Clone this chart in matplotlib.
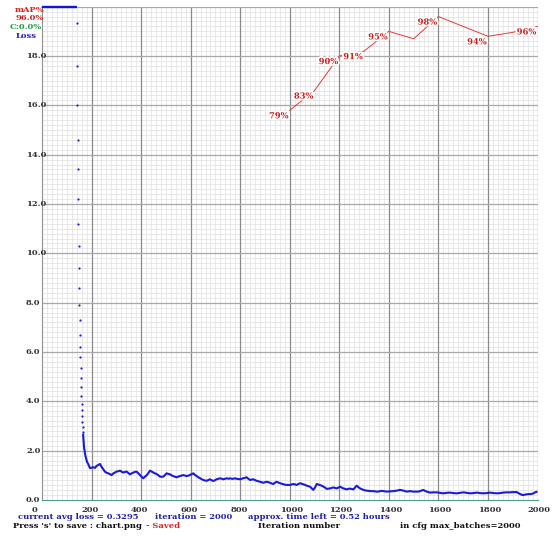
import matplotlib
matplotlib.use("Agg")
import matplotlib.pyplot as plt
import matplotlib.patheffects as pe
import numpy as np

W, H = 557, 536

# avg loss while clipped at the top of the chart (loss > 20)
clip_iters = [0, 140]
clip_vals = [20.0, 20.0]

# avg loss per iteration
loss_iters = [141, 142, 143, 144, 145, 146, 147, 148, 149, 150,
              151, 152, 153, 154, 155, 156, 157, 158, 159, 160,
              161, 162, 163, 164, 165, 166, 167, 168, 169, 170,
              172, 174, 177, 180, 184, 187, 191, 194, 200, 207,
              214, 220, 227, 234, 240, 247, 254, 261, 268, 275,
              281, 288, 295, 301, 308, 315, 321, 328, 335, 342,
              348, 355, 362, 369, 375, 382, 389, 396, 402, 409,
              416, 423, 430, 436, 443, 450, 457, 463, 470, 476,
              483, 490, 497, 503, 510, 517, 523, 530, 537, 544,
              550, 557, 564, 570, 577, 584, 590, 597, 604, 611,
              617, 624, 631, 638, 645, 651, 658, 665, 671, 678,
              685, 692, 698, 705, 712, 719, 726, 732, 739, 746,
              753, 759, 766, 772, 779, 786, 792, 799, 806, 813,
              820, 826, 833, 840, 847, 853, 860, 866, 873, 880,
              886, 893, 900, 907, 914, 920, 927, 934, 940, 947,
              954, 961, 967, 974, 981, 988, 995, 1001, 1008, 1015,
              1021, 1028, 1035, 1042, 1048, 1055, 1062, 1069, 1075, 1082,
              1089, 1095, 1102, 1109, 1115, 1122, 1129, 1136, 1143, 1149,
              1156, 1163, 1170, 1176, 1183, 1190, 1196, 1203, 1210, 1216,
              1223, 1230, 1236, 1243, 1250, 1257, 1263, 1270, 1277, 1284,
              1290, 1297, 1304, 1311, 1318, 1324, 1331, 1338, 1345, 1351,
              1358, 1364, 1371, 1378, 1385, 1392, 1405, 1418, 1432, 1445,
              1459, 1472, 1486, 1499, 1509, 1519, 1529, 1539, 1546, 1553,
              1566, 1580, 1593, 1606, 1620, 1633, 1647, 1660, 1674, 1687,
              1701, 1714, 1728, 1741, 1755, 1768, 1782, 1795, 1809, 1822,
              1836, 1849, 1862, 1876, 1889, 1903, 1916, 1923, 1930, 1937,
              1943, 1950, 1957, 1963, 1970, 1977, 1984, 1990, 1996]
loss_vals = [19.35, 17.6, 16.0, 14.6, 13.4, 12.2, 11.2, 10.3, 9.4, 8.6,
             7.9, 7.3, 6.7, 6.2, 5.8, 5.35, 4.95, 4.6, 4.2, 3.9,
             3.65, 3.4, 3.15, 2.95, 2.75, 2.65, 2.5, 2.35, 2.25, 2.1,
             2.0, 1.85, 1.72, 1.6, 1.5, 1.45, 1.35, 1.29, 1.31, 1.33,
             1.3, 1.38, 1.42, 1.46, 1.35, 1.25, 1.15, 1.1, 1.08, 1.04,
             1.01, 1.08, 1.12, 1.15, 1.17, 1.19, 1.15, 1.11, 1.14, 1.15,
             1.1, 1.04, 1.08, 1.11, 1.14, 1.15, 1.08, 1.01, 0.94, 0.88,
             0.95, 1.01, 1.1, 1.19, 1.15, 1.11, 1.08, 1.05, 1.0, 0.95,
             0.94, 0.95, 1.02, 1.08, 1.06, 1.04, 1.0, 0.97, 0.94, 0.92,
             0.95, 0.97, 0.99, 1.01, 0.99, 0.97, 0.99, 1.01, 1.05, 1.08,
             1.02, 0.97, 0.92, 0.88, 0.84, 0.81, 0.79, 0.78, 0.81, 0.84,
             0.8, 0.77, 0.8, 0.84, 0.86, 0.88, 0.86, 0.84, 0.86, 0.88,
             0.86, 0.88, 0.86, 0.86, 0.88, 0.86, 0.85, 0.84, 0.86, 0.88,
             0.9, 0.92, 0.86, 0.81, 0.83, 0.84, 0.81, 0.78, 0.76, 0.74,
             0.72, 0.7, 0.72, 0.74, 0.72, 0.7, 0.67, 0.65, 0.7, 0.74,
             0.71, 0.68, 0.66, 0.64, 0.62, 0.61, 0.61, 0.61, 0.63, 0.65,
             0.63, 0.61, 0.65, 0.68, 0.66, 0.64, 0.61, 0.58, 0.56, 0.54,
             0.47, 0.41, 0.51, 0.65, 0.63, 0.61, 0.58, 0.54, 0.5, 0.45,
             0.46, 0.47, 0.49, 0.51, 0.49, 0.47, 0.5, 0.54, 0.5, 0.47,
             0.45, 0.43, 0.45, 0.46, 0.45, 0.43, 0.5, 0.58, 0.52, 0.47,
             0.44, 0.41, 0.39, 0.38, 0.37, 0.36, 0.36, 0.36, 0.35, 0.34,
             0.34, 0.36, 0.37, 0.36, 0.35, 0.34, 0.35, 0.36, 0.38, 0.41,
             0.38, 0.34, 0.36, 0.34, 0.34, 0.34, 0.37, 0.41, 0.37, 0.34,
             0.3, 0.31, 0.31, 0.29, 0.27, 0.29, 0.3, 0.28, 0.27, 0.29,
             0.31, 0.29, 0.27, 0.28, 0.3, 0.28, 0.27, 0.28, 0.3, 0.28,
             0.27, 0.28, 0.3, 0.31, 0.31, 0.32, 0.32, 0.28, 0.24, 0.21,
             0.2, 0.22, 0.23, 0.24, 0.24, 0.25, 0.27, 0.31, 0.33]

# mAP checkpoints
map_iters = [1000, 1100, 1200, 1300, 1400, 1500, 1600, 1700, 1800, 1900, 2000]
map_vals = [79.0, 83.0, 90.0, 91.0, 95.0, 93.5, 98.0, 96.0, 94.0, 94.8, 96.0]
map_labelled = [True, True, True, True, True, False, True, False, True, False, True]

max_batches = 2000
FONT = "DejaVu Serif"
FS = 6.0

fig = plt.figure(figsize=(W / 100, H / 100), dpi=100)
fig.patch.set_facecolor("white")
ax = fig.add_axes([42 / W, 1 - 500 / H, (537.5 - 42) / W, (500 - 6.7) / H])
ax.set_xlim(0, max_batches)
ax.set_ylim(0, 20)

# light grid lines every 1% of each axis
ax.set_xticks(np.arange(0, 2001, 20))
ax.set_yticks(np.arange(0, 20.01, 0.2))
ax.grid(color="#e4e4e4", lw=0.6, ls="-", zorder=0)
ax.set_axisbelow(True)
ax.tick_params(length=0, labelbottom=False, labelleft=False)

# darker lines every 10%, drawn on top of the light ones
for v in range(200, 2001, 200):
    ax.axvline(v, color="#8a8a8a", lw=0.9, zorder=1)
for v in np.arange(2, 20.01, 2):
    ax.axhline(v, color="#a8a8a8", lw=0.9, zorder=1)

for s in ["top", "right"]:
    ax.spines[s].set_visible(False)
ax.spines["left"].set_color("#909090")
ax.spines["bottom"].set_color("#4f9a8a")

# loss curve
it = np.array(loss_iters)
lv = np.array(loss_vals)
ax.plot(clip_iters, clip_vals, color="#1414d8", lw=1.7, clip_on=False,
        solid_capstyle="butt", zorder=3)
sparse = it < 166
ax.plot(it[sparse], lv[sparse], ls="none", marker="o", ms=1.6, color="#2020d0",
        mec="none", zorder=3)
ax.plot(it[~sparse], lv[~sparse], color="#1a1ad8", lw=1.5, solid_joinstyle="round", zorder=3)

# axis labels drawn as text, left-anchored like the darknet chart
for v in np.arange(0, 19, 2):
    ax.annotate(f"{v:.1f}", xy=(0, v), xycoords="data", xytext=(-16, 0),
                textcoords="offset pixels", ha="left", va="center",
                fontsize=FS, family=FONT, weight="bold", color="#333333")
for v in range(0, 2001, 200):
    ax.annotate(f"{v}", xy=(v, 0), xycoords="data", xytext=(-10, -10),
                textcoords="offset pixels", ha="left", va="center",
                fontsize=FS, family=FONT, weight="bold", color="#333333")

# mAP curve on its own 0..100 scale
ax2 = ax.twinx()
ax2.set_ylim(0, 100)
ax2.set_xlim(0, max_batches)
ax2.axis("off")
ax2.plot(map_iters, map_vals, color="#e03a3a", lw=0.7)
halo = [pe.withStroke(linewidth=2.5, foreground="white")]
for x, v, lab in zip(map_iters, map_vals, map_labelled):
    if lab:
        ax2.annotate(f"{v:.0f}%", xy=(x, v), xytext=(-1, -6), textcoords="offset pixels",
                     ha="right", va="center", fontsize=FS, family=FONT, weight="bold",
                     color="#c81e1e", path_effects=halo)


def ftext(x, y, s, color, ha="left"):
    fig.text(x / W, 1 - y / H, s, ha=ha, va="center", fontsize=FS, family=FONT,
             weight="bold", color=color)


# legend block at top left
ftext(15, 10.5, "mAP%", "#e02020")
ftext(15, 18.3, "96.0%", "#c81e1e")
ftext(10, 27.3, "C:0.0%", "#209a40")
ftext(16, 36, "Loss", "#2020b8")

# status lines under the chart
ftext(18, 517, "current avg loss = 0.3295", "#2020a8")
ftext(155, 517, "iteration = 2000", "#2020a8")
ftext(248, 517, "approx. time left = 0.52 hours", "#2020a8")
ftext(13, 526, "Press 's' to save : chart.png", "#111111")
ftext(146, 526, "- Saved", "#e02020")
ftext(258, 526, "Iteration number", "#111111")
ftext(400, 526, "in cfg max_batches=2000", "#111111")

fig.savefig("out.png", dpi=100)
